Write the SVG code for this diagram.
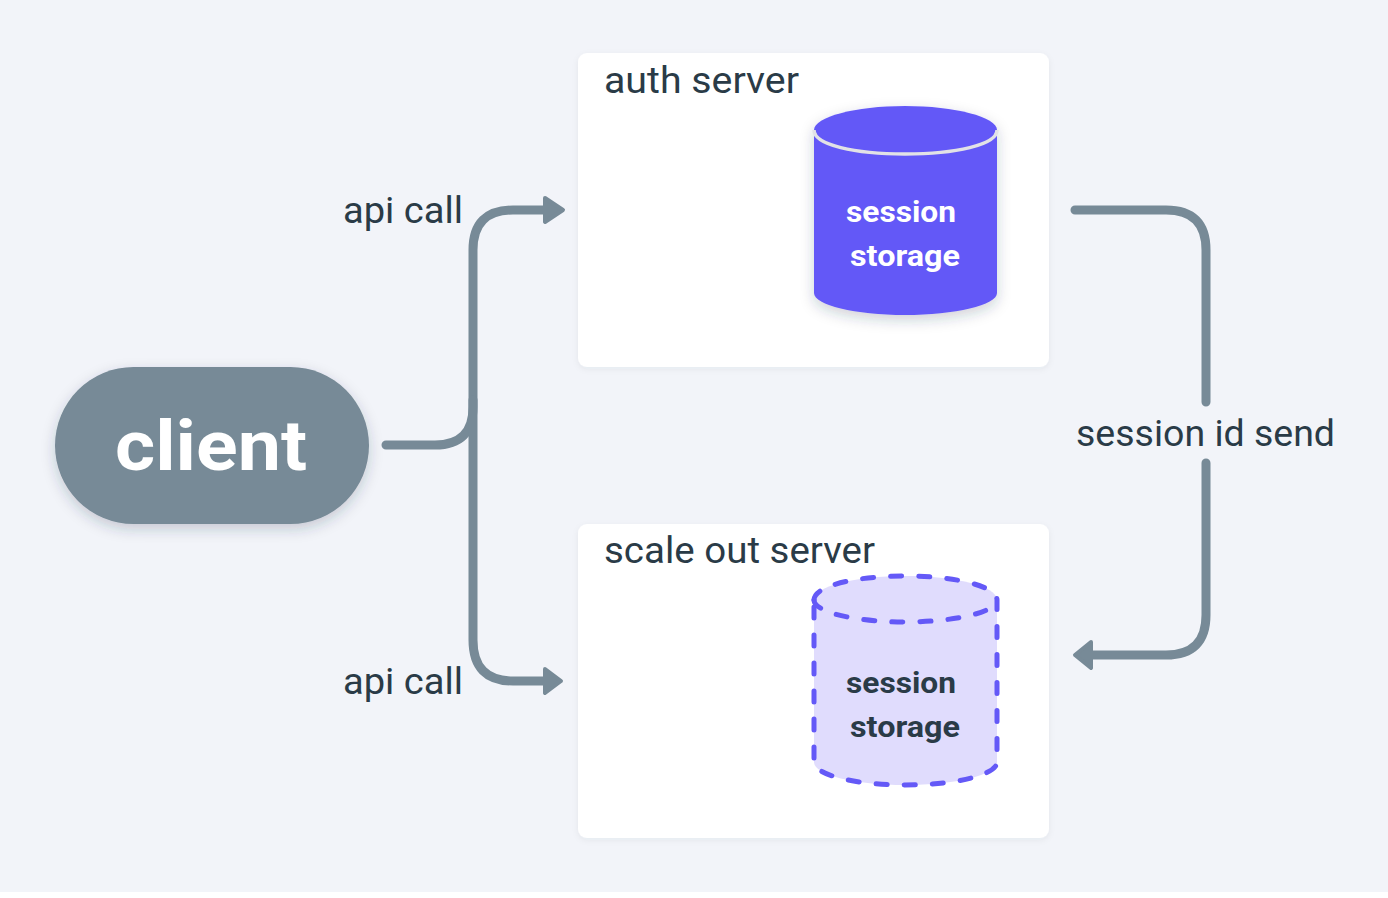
<svg xmlns="http://www.w3.org/2000/svg" width="1388" height="898" viewBox="0 0 1388 898">
<style>
text{font-family:"Roboto","Liberation Sans",sans-serif;fill:#2a3b47}
.lbl{font-size:36px}
.st{font-size:30px;font-weight:700;text-anchor:start}
.conn{fill:none;stroke:#778a97;stroke-width:9;stroke-linecap:round;stroke-linejoin:round}
.head{fill:#778a97;stroke:#778a97;stroke-width:4;stroke-linejoin:round}
.box{fill:#fff;filter:url(#soft)}
.dash{stroke:#6459f7;stroke-width:5;stroke-dasharray:11 17;stroke-linecap:round}
</style>
<defs>
<filter id="soft" x="-10%" y="-10%" width="120%" height="125%"><feDropShadow dx="0" dy="2" stdDeviation="3" flood-color="#2a3b47" flood-opacity=".06"/></filter>
<filter id="sh" x="-20%" y="-20%" width="140%" height="150%"><feDropShadow dx="0" dy="5" stdDeviation="7" flood-color="#2a3b47" flood-opacity=".22"/></filter>
</defs>
<rect width="1388" height="892" fill="#f2f4f9"/>
<g id="auth-server">
<rect class="box" x="578" y="53" width="471" height="314" rx="9"/>
<text class="lbl" x="604" y="93" textLength="195" lengthAdjust="spacingAndGlyphs">auth server</text>
</g>
<g id="scale-out-server">
<rect class="box" x="578" y="524" width="471" height="314" rx="9"/>
<text class="lbl" x="604" y="563" textLength="271" lengthAdjust="spacingAndGlyphs">scale out server</text>
</g>
<g id="client">
<rect x="55" y="367" width="314" height="157" rx="78.5" fill="#778a97" filter="url(#sh)"/>
<text x="115" y="470" font-size="71" font-weight="700" style="fill:#fff" textLength="192" lengthAdjust="spacingAndGlyphs">client</text>
</g>
<g id="session-storage-auth">
<path d="M814 130C814 117 855 106 905 106C955 106 997 117 997 130V293C997 305 955 315 905 315C855 315 814 305 814 293Z" fill="#6459f7" filter="url(#sh)"/>
<path d="M814 130C814 145 855 154 905 154C955 154 997 145 997 130" fill="none" stroke="#e2e2e6" stroke-width="3.5"/>
<text class="st" x="846" y="222" style="fill:#fff" textLength="110" lengthAdjust="spacingAndGlyphs">session</text>
<text class="st" x="850" y="266" style="fill:#fff" textLength="110" lengthAdjust="spacingAndGlyphs">storage</text>
</g>
<g id="session-storage-scale">
<path class="dash" d="M814 600C814 586 855 576 905 576C955 576 997 586 997 600V762C997 775 955 785 905 785C855 785 814 775 814 762Z" fill="#e0dcfd"/>
<path class="dash" d="M814 600C814 612 855 622 905 622C955 622 997 612 997 600" fill="none"/>
<text class="st" x="846" y="693" textLength="110" lengthAdjust="spacingAndGlyphs">session</text>
<text class="st" x="850" y="737" textLength="110" lengthAdjust="spacingAndGlyphs">storage</text>
</g>
<g id="connectors">
<path class="conn" d="M386 445H435Q473 445 473 407V250Q473 210 513 210H548"/>
<path class="conn" d="M473 400V640Q473 681 513 681H548"/>
<path class="head" d="M545 198L563 210L545 222Z"/>
<path class="head" d="M545 669L561 681L545 693Z"/>
<path class="conn" d="M1075 210H1166Q1206 210 1206 250V402"/>
<path class="conn" d="M1206 463V615Q1206 655 1166 655H1088"/>
<path class="head" d="M1091 642L1075 655L1091 668Z"/>
<text class="lbl" x="343" y="223" textLength="120" lengthAdjust="spacingAndGlyphs">api call</text>
<text class="lbl" x="343" y="694" textLength="120" lengthAdjust="spacingAndGlyphs">api call</text>
<text class="lbl" x="1076" y="446" textLength="259" lengthAdjust="spacingAndGlyphs">session id send</text>
</g>
</svg>
